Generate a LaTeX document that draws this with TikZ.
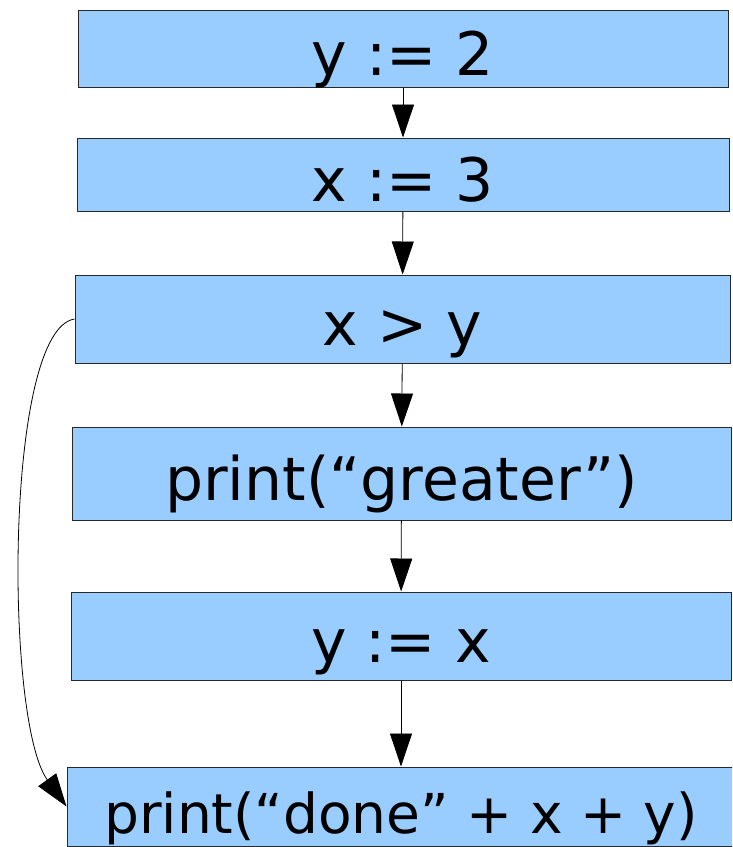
\documentclass[tikz,border=0pt]{standalone}
\usepackage{fontspec}
\setmainfont{DejaVu Sans}
\usepackage{tikz}
\usetikzlibrary{arrows.meta}
\definecolor{boxblue}{RGB}{153,204,255}
\definecolor{edgegray}{RGB}{40,40,40}

\begin{document}
\begin{tikzpicture}[
  x=1pt,y=-1pt,
  stmt/.style={draw=edgegray,line width=1pt,fill=boxblue,inner sep=0pt,
    font=\fontsize{60}{70}\selectfont,text height=58pt,text depth=5pt},
  arr/.style={-{Triangle[length=33pt,width=22pt]},line width=0.8pt}
]
\useasboundingbox (0,0) rectangle (732,847);
\clip (0,0) rectangle (732,847);
\node[stmt,minimum width=650pt,minimum height=77pt] (sety) at (403,48.5) {y := 2};
\node[stmt,minimum width=652pt,minimum height=73pt] (setx) at (403,174.5) {x := 3};
\node[stmt,minimum width=655pt,minimum height=88pt] (cond) at (402.5,319) {x > y};
\node[stmt,minimum width=659pt,minimum height=93pt] (greater) at (401.5,473.5) {print(“greater”)};
\node[stmt,minimum width=660pt,minimum height=88pt] (assign) at (401,636) {y := x};
\node[stmt,minimum width=668pt,minimum height=79pt,font=\fontsize{55}{64}\selectfont,
  text height=56pt,text depth=3pt] (done) at (401,806.5) {print(“done” + x + y)};
\draw[arr] (sety) -- (setx);
\draw[arr] (setx) -- (cond);
\draw[arr] (cond) -- (greater);
\draw[arr] (greater) -- (assign);
\draw[arr] (assign) -- (done);
\draw[arr] (cond.west) .. controls +(-70,11) and +(-62,-86) .. (done.west);
\end{tikzpicture}
\end{document}
